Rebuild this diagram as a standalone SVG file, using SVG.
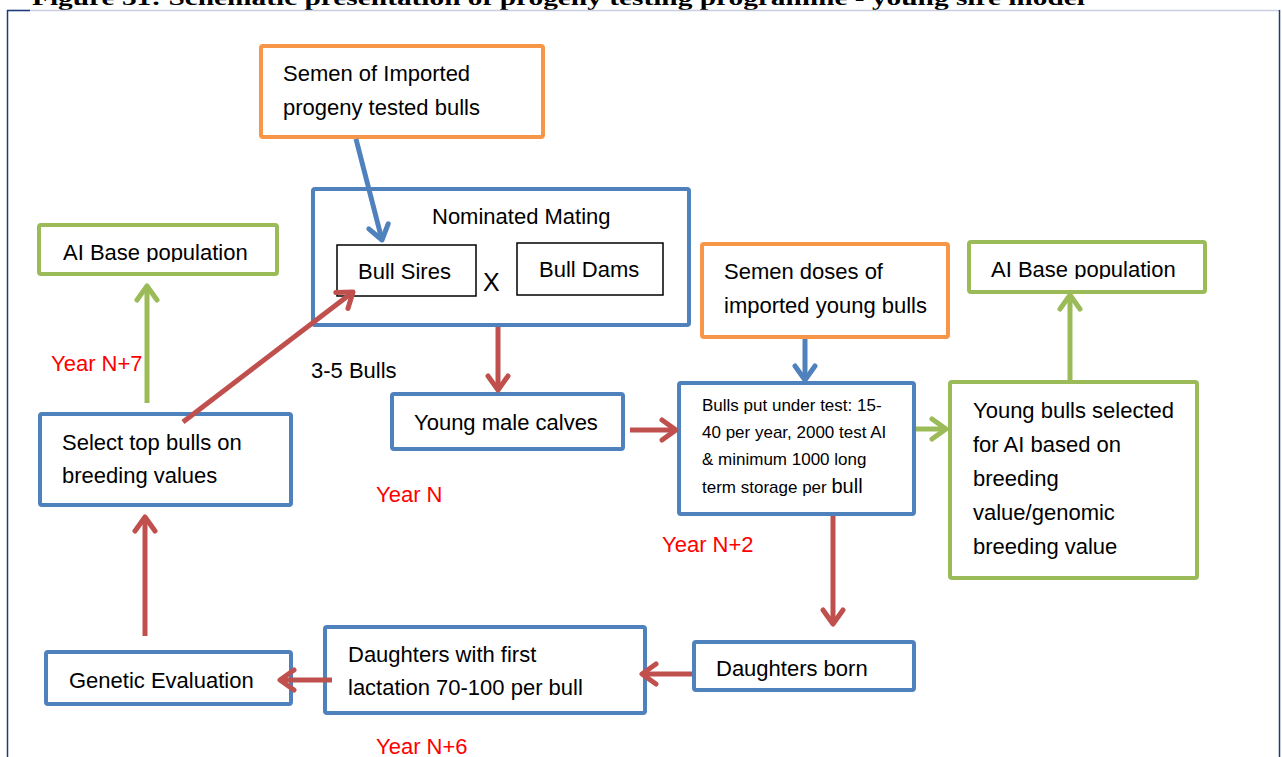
<svg xmlns="http://www.w3.org/2000/svg" width="1282" height="757" viewBox="0 0 1282 757">
<style>
.box{fill:#fff;stroke-width:4}
.b{stroke:#4f81bd}.r{stroke:#c0504d}.g{stroke:#9bbb59}.o{stroke:#f79646}
.thin{fill:#fff;stroke:#000;stroke-width:1.5}
text{font-family:"Liberation Sans",Arial,sans-serif;font-size:22px;fill:#000}
.sm{font-size:17px}
.yr{fill:#ff0000}
.ln{fill:none;stroke-width:5}
</style>
<defs>
<marker id="ab" viewBox="0 0 20 26" refX="17" refY="13" markerWidth="20" markerHeight="26" markerUnits="userSpaceOnUse" orient="auto"><path d="M3,3 L17,13 L3,23" fill="none" stroke="#4f81bd" stroke-width="5" stroke-linecap="round" stroke-linejoin="round"/></marker>
<marker id="ar" viewBox="0 0 20 26" refX="17" refY="13" markerWidth="20" markerHeight="26" markerUnits="userSpaceOnUse" orient="auto"><path d="M3,3 L17,13 L3,23" fill="none" stroke="#c0504d" stroke-width="5" stroke-linecap="round" stroke-linejoin="round"/></marker>
<marker id="ag" viewBox="0 0 20 26" refX="17" refY="13" markerWidth="20" markerHeight="26" markerUnits="userSpaceOnUse" orient="auto"><path d="M3,3 L17,13 L3,23" fill="none" stroke="#9bbb59" stroke-width="5" stroke-linecap="round" stroke-linejoin="round"/></marker>
<clipPath id="c1"><rect x="38" y="224" width="240" height="38"/></clipPath>
<clipPath id="c2"><rect x="968" y="242" width="238" height="37"/></clipPath>
</defs>
<rect width="1282" height="757" fill="#fff"/>
<g id="frame">
<text x="32" y="5" style="font-family:'Liberation Serif','Times New Roman',serif;font-weight:bold;font-size:22px" textLength="1053" lengthAdjust="spacingAndGlyphs">Figure 31: Schematic presentation of progeny testing programme - young sire model</text>
<line x1="7" y1="10.5" x2="1280" y2="10.5" stroke="#c8cfe0" stroke-width="1.5"/>
<line x1="7" y1="10.5" x2="30" y2="10.5" stroke="#1f3a7a" stroke-width="1.5"/>
<line x1="7.5" y1="10" x2="7.5" y2="757" stroke="#1f3a7a" stroke-width="1.5"/>
<line x1="1279.5" y1="10" x2="1279.5" y2="757" stroke="#1f3a7a" stroke-width="1.5"/>
</g>
<g id="n-semen-imported">
<rect class="box o" x="261" y="46" width="282" height="91" rx="2"/>
<text x="283" y="81">Semen of Imported</text>
<text x="283" y="115">progeny tested bulls</text>
</g>
<g id="n-nominated">
<rect class="box b" x="313" y="189" width="376" height="136" rx="2"/>
<text x="432" y="224">Nominated Mating</text>
<rect class="thin" x="337" y="245" width="139" height="51"/>
<text x="358" y="279">Bull Sires</text>
<text x="483" y="291" style="font-size:25px">X</text>
<rect class="thin" x="517" y="243" width="146" height="52"/>
<text x="539" y="277">Bull Dams</text>
</g>
<g id="n-ai-left">
<rect class="box g" x="39" y="225" width="238" height="49" rx="2"/>
<text x="63" y="260" clip-path="url(#c1)">AI Base population</text>
</g>
<g id="n-ai-right">
<rect class="box g" x="969" y="242" width="236" height="50" rx="2"/>
<text x="991" y="277" clip-path="url(#c2)">AI Base population</text>
</g>
<g id="n-semen-young">
<rect class="box o" x="702" y="244" width="246" height="93" rx="2"/>
<text x="724" y="279">Semen doses of</text>
<text x="724" y="313">imported young bulls</text>
</g>
<g id="n-test">
<rect class="box b" x="679" y="383" width="235" height="131" rx="2"/>
<text class="sm" x="702" y="411">Bulls put under test: 15-</text>
<text class="sm" x="702" y="438">40 per year, 2000 test AI</text>
<text class="sm" x="702" y="465">&amp; minimum 1000 long</text>
<text class="sm" x="702" y="493">term storage per <tspan style="font-size:20px">bull</tspan></text>
</g>
<g id="n-young-selected">
<rect class="box g" x="950" y="382" width="247" height="196" rx="2"/>
<text x="973" y="418">Young bulls selected</text>
<text x="973" y="452">for AI based on</text>
<text x="973" y="486">breeding</text>
<text x="973" y="520">value/genomic</text>
<text x="973" y="554">breeding value</text>
</g>
<g id="n-select">
<rect class="box b" x="40" y="414" width="251" height="91" rx="2"/>
<text x="62" y="450">Select top bulls on</text>
<text x="62" y="483">breeding values</text>
</g>
<g id="n-calves">
<rect class="box b" x="392" y="394" width="231" height="55" rx="2"/>
<text x="414" y="430">Young male calves</text>
</g>
<g id="n-daughters-born">
<rect class="box b" x="694" y="642" width="220" height="48" rx="2"/>
<text x="716" y="676">Daughters born</text>
</g>
<g id="n-daughters-lact">
<rect class="box b" x="325" y="627" width="320" height="86" rx="2"/>
<text x="348" y="662">Daughters with first</text>
<text x="348" y="695">lactation 70-100 per bull</text>
</g>
<g id="n-genetic">
<rect class="box b" x="46" y="652" width="245" height="52" rx="2"/>
<text x="69" y="688">Genetic Evaluation</text>
</g>
<g id="connectors">
<line class="ln r" x1="183" y1="422" x2="353" y2="292" marker-end="url(#ar)"/>
<line class="ln b" x1="356" y1="139" x2="382" y2="240" marker-end="url(#ab)"/>
<line class="ln r" x1="498" y1="327" x2="498" y2="390" marker-end="url(#ar)"/>
<line class="ln r" x1="630" y1="430" x2="676" y2="430" marker-end="url(#ar)"/>
<line class="ln b" x1="805" y1="339" x2="805" y2="380" marker-end="url(#ab)"/>
<line class="ln g" x1="916" y1="429" x2="946" y2="429" marker-end="url(#ag)"/>
<line class="ln g" x1="1070" y1="380" x2="1070" y2="295" marker-end="url(#ag)"/>
<line class="ln r" x1="833" y1="516" x2="833" y2="624" marker-end="url(#ar)"/>
<line class="ln r" x1="692" y1="674" x2="642" y2="674" marker-end="url(#ar)"/>
<line class="ln r" x1="332" y1="680" x2="280" y2="680" marker-end="url(#ar)"/>
<line class="ln r" x1="145" y1="636" x2="145" y2="517" marker-end="url(#ar)"/>
<line class="ln g" x1="147" y1="403" x2="147" y2="286" marker-end="url(#ag)"/>
</g>
<g id="labels">
<text class="yr" x="51" y="371">Year N+7</text>
<text x="311" y="378">3-5 Bulls</text>
<text class="yr" x="376" y="502">Year N</text>
<text class="yr" x="662" y="552">Year N+2</text>
<text class="yr" x="376" y="754">Year N+6</text>
</g>
</svg>
